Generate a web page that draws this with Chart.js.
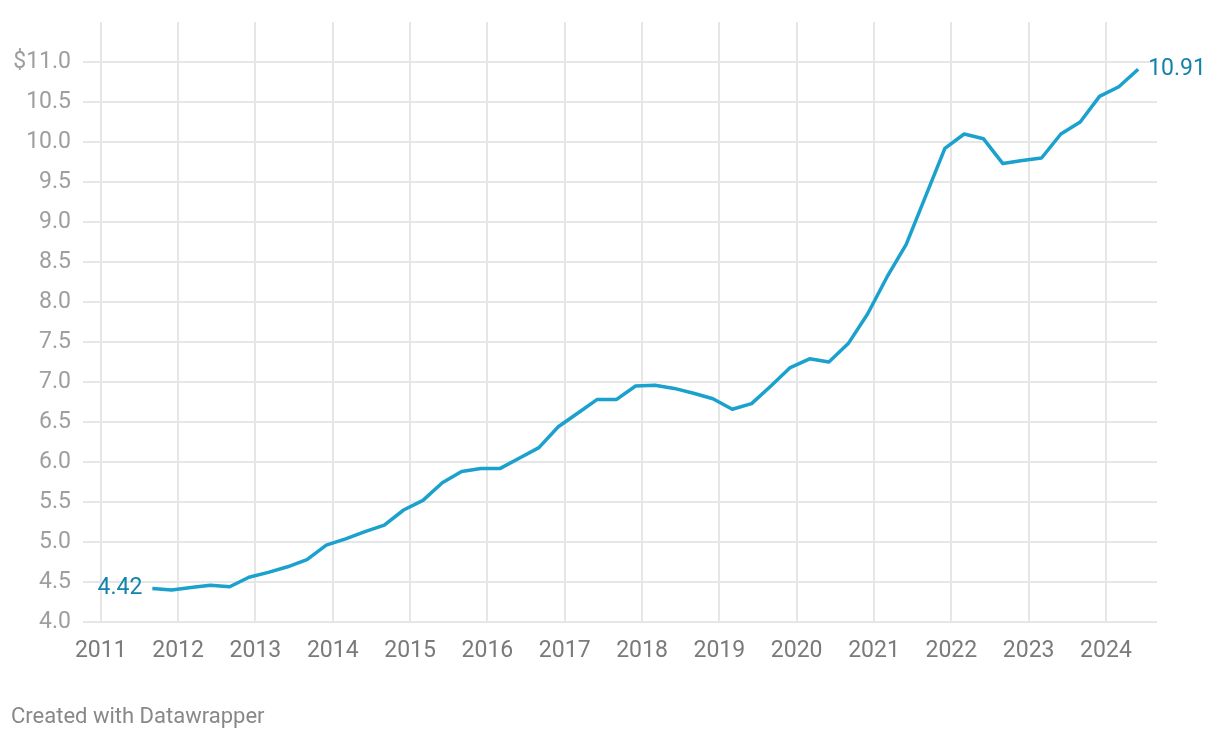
<!DOCTYPE html>
<html>
<head>
<meta charset="utf-8">
<script src="https://cdn.jsdelivr.net/npm/chart.js@4/dist/chart.umd.min.js"></script>
<style>
  html, body { margin: 0; padding: 0; background: #fff; }
  #wrap { position: relative; width: 1220px; height: 738px; }
  #footer {
    position: absolute; left: 11px; top: 703px;
    font-family: Roboto, sans-serif; font-size: 22px; color: #888;
  }
</style>
</head>
<body>
<div id="wrap">
  <canvas id="myChart" width="1220" height="738"></canvas>
  <div id="footer">Created with Datawrapper</div>
</div>
<script>
// quarterly observations (last month of each quarter)
let dates = [
    '2011-09', '2011-12', '2012-03', '2012-06', '2012-09', '2012-12',
    '2013-03', '2013-06', '2013-09', '2013-12', '2014-03', '2014-06',
    '2014-09', '2014-12', '2015-03', '2015-06', '2015-09', '2015-12',
    '2016-03', '2016-06', '2016-09', '2016-12', '2017-03', '2017-06',
    '2017-09', '2017-12', '2018-03', '2018-06', '2018-09', '2018-12',
    '2019-03', '2019-06', '2019-09', '2019-12', '2020-03', '2020-06',
    '2020-09', '2020-12', '2021-03', '2021-06', '2021-09', '2021-12',
    '2022-03', '2022-06', '2022-09', '2022-12', '2023-03', '2023-06',
    '2023-09', '2023-12', '2024-03', '2024-06'
];
let values = [
    4.42, 4.40, 4.43, 4.46, 4.44, 4.56,
    4.62, 4.69, 4.78, 4.96, 5.04, 5.13,
    5.21, 5.40, 5.52, 5.74, 5.88, 5.92,
    5.92, 6.05, 6.18, 6.44, 6.61, 6.78,
    6.78, 6.95, 6.96, 6.92, 6.86, 6.79,
    6.66, 6.73, 6.95, 7.18, 7.29, 7.25,
    7.48, 7.85, 8.31, 8.72, 9.32, 9.92,
    10.10, 10.04, 9.73, 9.77, 9.80, 10.10,
    10.25, 10.57, 10.69, 10.91
];
let yearTicks = [2011, 2012, 2013, 2014, 2015, 2016, 2017, 2018, 2019, 2020, 2021, 2022, 2023, 2024];
let valueTicks = [4.0, 4.5, 5.0, 5.5, 6.0, 6.5, 7.0, 7.5, 8.0, 8.5, 9.0, 9.5, 10.0, 10.5, 11.0];

const lineColor = '#1aa1cd';
const labelColor = '#1483ab';
const gridColor = '#e6e6e6';
const fontFamily = 'Roboto, sans-serif';

function toYear(d) {
    let parts = d.split('-');
    return parseInt(parts[0]) + (parseInt(parts[1]) - 1) / 12;
}

let points = dates.map((d, i) => ({ x: toYear(d), y: values[i] }));

// draws the first and last value next to the line
const endLabels = {
    id: 'endLabels',
    afterDatasetsDraw(chart) {
        const meta = chart.getDatasetMeta(0);
        const first = meta.data[0];
        const last = meta.data[meta.data.length - 1];
        const ctx = chart.ctx;
        ctx.save();
        ctx.font = '23px ' + fontFamily;
        ctx.fillStyle = labelColor;
        ctx.textBaseline = 'middle';
        ctx.textAlign = 'right';
        ctx.fillText(values[0].toFixed(2), first.x - 10, first.y);
        ctx.textAlign = 'left';
        ctx.fillText(values[values.length - 1].toFixed(2), last.x + 10, last.y);
        ctx.restore();
    }
};

const ctx = document.getElementById('myChart').getContext('2d');
let myChart = new Chart(ctx, {
    type: 'line',
    data: {
        datasets: [{
            data: points,
            borderColor: lineColor,
            borderWidth: 3.5,
            pointRadius: 0,
            tension: 0,
            borderJoinStyle: 'round'
        }]
    },
    options: {
        responsive: false,
        animation: false,
        layout: { padding: { top: 22, right: 63, left: 0, bottom: 0 } },
        plugins: { legend: { display: false }, tooltip: { enabled: false } },
        scales: {
            x: {
                type: 'linear',
                min: 2010.77,
                max: 2024.66,
                afterBuildTicks: scale => { scale.ticks = yearTicks.map(v => ({ value: v })); },
                afterFit: scale => {
                    scale.height = 116;
                    scale.paddingLeft = 0;
                    scale.paddingRight = 0;
                },
                grid: { color: gridColor, lineWidth: 2, drawTicks: false },
                border: { display: false },
                ticks: {
                    color: '#7a7a7a',
                    font: { family: fontFamily, size: 23 },
                    padding: 15,
                    maxRotation: 0,
                    callback: v => String(v)
                }
            },
            y: {
                min: 4,
                max: 11.5,
                afterBuildTicks: scale => { scale.ticks = valueTicks.map(v => ({ value: v })); },
                afterFit: scale => {
                    scale.width = 83;
                    scale.paddingTop = 0;
                    scale.paddingBottom = 0;
                },
                grid: { color: gridColor, lineWidth: 2, drawTicks: false },
                border: { display: false },
                ticks: {
                    color: '#9e9e9e',
                    font: { family: fontFamily, size: 23 },
                    padding: 12,
                    callback: v => (v === 11 ? '$11.0' : v.toFixed(1))
                }
            }
        }
    },
    plugins: [endLabels]
});
</script>
</body>
</html>
